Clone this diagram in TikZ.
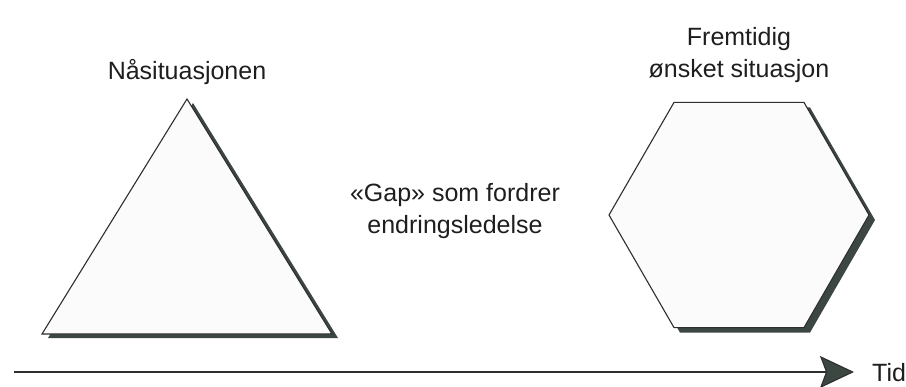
\documentclass[tikz,border=0pt]{standalone}
\usepackage{fontspec}
\setmainfont{Liberation Sans}
\usetikzlibrary{arrows.meta}
\definecolor{shadowc}{HTML}{3C4742}
\definecolor{edgec}{HTML}{2E2E2E}
\definecolor{fillc}{HTML}{FBFBFB}
\definecolor{textc}{HTML}{1E1E1E}
\tikzset{
  shape shadow/.style={fill=shadowc, draw=none},
  shape body/.style={fill=fillc, draw=edgec, line width=1.1pt, line join=miter},
  label text/.style={text=textc, font=\fontsize{25}{32}\selectfont, align=center, inner sep=0pt},
}
\begin{document}
\begin{tikzpicture}[x=1pt,y=-1pt]
\useasboundingbox (0,0) rectangle (906,386);
% triangle
\coordinate (tA) at (187,99);
\coordinate (tL) at (42,334);
\coordinate (tR) at (332,334);
\fill[shape shadow] ([shift={(6,4)}]tA) -- ([shift={(6,4)}]tL) -- ([shift={(6,4)}]tR) -- cycle;
\draw[shape body] (tA) -- (tL) -- (tR) -- cycle;
% hexagon
\coordinate (hc) at (739,215);
\fill[shape shadow] ([shift={(6,5)}]hc) ++(0:130) -- ++(-120:130) -- ++(180:130) -- ++(120:130) -- ++(60:130) -- ++(0:130) -- cycle;
\draw[shape body] (hc) ++(0:130) coordinate (hR) -- ++(-120:130) coordinate (hTR) -- ++(180:130) coordinate (hTL) -- ++(120:130) coordinate (hL) -- ++(60:130) coordinate (hBL) -- ++(0:130) coordinate (hBR) -- cycle;
% labels
\node[label text, anchor=base] (nas) at (187,79) {Nåsituasjonen};
\node[label text, anchor=base] (frem) at (739,77) {Fremtidig\\ønsket situasjon};
\node[label text, anchor=base] (gap) at (455,233) {«Gap» som fordrer\\endringsledelse};
% time axis
\coordinate (ax0) at (14,372);
\coordinate (axtip) at (854,372);
\node[label text, anchor=base west] (tid) at (872,381) {Tid};
\draw[draw=edgec, line width=1.1pt, -{Stealth[length=34pt,width=32pt,inset=6pt,fill=shadowc]}] (ax0) -- (axtip);
\end{tikzpicture}
\end{document}
